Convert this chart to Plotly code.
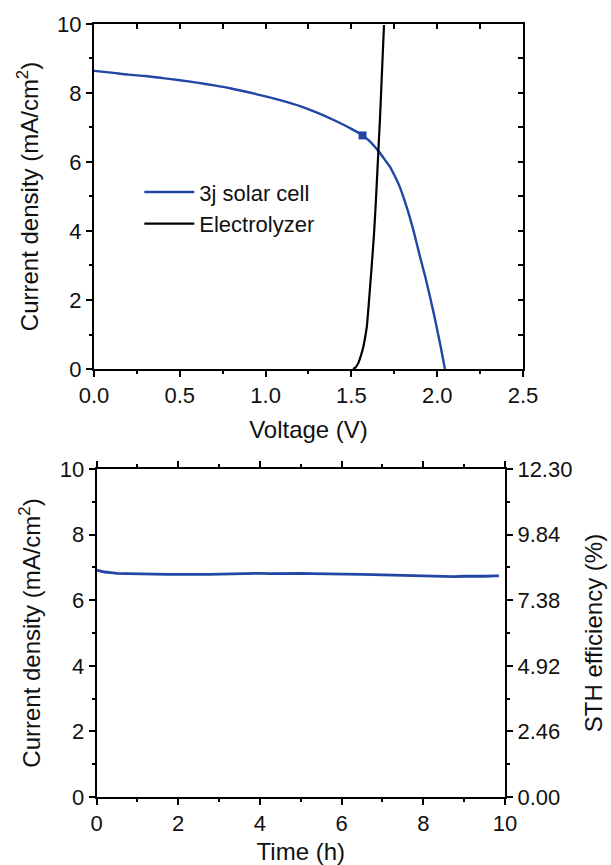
import plotly.graph_objects as go

# ---- J-V curves (top panel) ----
solar_v = [0.00, 0.10, 0.20, 0.30, 0.40, 0.50, 0.60, 0.70, 0.80, 0.90, 1.00,
           1.10, 1.20, 1.30, 1.40, 1.50, 1.565, 1.60, 1.66, 1.70, 1.725, 1.75,
           1.78, 1.81, 1.84, 1.87, 1.90, 1.93, 1.96, 1.99, 2.02, 2.045]
solar_j = [8.64, 8.59, 8.53, 8.49, 8.43, 8.37, 8.30, 8.22, 8.13, 8.02, 7.90,
           7.77, 7.62, 7.43, 7.21, 6.96, 6.77, 6.63, 6.30, 6.03, 5.86, 5.62,
           5.30, 4.88, 4.40, 3.85, 3.25, 2.68, 2.05, 1.38, 0.65, 0.00]

elec_v = [1.510, 1.525, 1.540, 1.555, 1.570, 1.580, 1.590, 1.603, 1.618,
          1.632, 1.643, 1.657, 1.667, 1.677, 1.690]
elec_j = [0.00, 0.05, 0.17, 0.38, 0.65, 0.92, 1.23, 2.00, 2.97,
          3.93, 4.90, 6.30, 7.31, 8.47, 9.97]

# operating point marked on the solar-cell curve
mpp_v = [1.565]
mpp_j = [6.77]

# ---- stability run (bottom panel) ----
time_h = [0.00, 0.10, 0.20, 0.35, 0.50, 0.75, 1.00, 1.25, 1.50, 1.75, 2.00,
          2.25, 2.50, 2.75, 3.00, 3.25, 3.50, 3.75, 4.00, 4.25, 4.50, 4.75,
          5.00, 5.25, 5.50, 5.75, 6.00, 6.25, 6.50, 6.75, 7.00, 7.25, 7.50,
          7.75, 8.00, 8.25, 8.50, 8.75, 9.00, 9.25, 9.50, 9.75, 9.85]
stab_j = [6.92, 6.88, 6.86, 6.84, 6.82, 6.81, 6.80, 6.79, 6.80, 6.79, 6.79,
          6.78, 6.79, 6.79, 6.80, 6.80, 6.81, 6.81, 6.82, 6.81, 6.82, 6.82,
          6.82, 6.81, 6.81, 6.81, 6.80, 6.79, 6.79, 6.78, 6.77, 6.76, 6.75,
          6.74, 6.73, 6.72, 6.72, 6.72, 6.73, 6.72, 6.73, 6.74, 6.74]

# STH efficiency (%) = 1.23 V x J (mA/cm2) / 100 mW/cm2 x 100
sth_factor = 1.23
sth_ticks = [0.00, 2.46, 4.92, 7.38, 9.84, 12.30]

BLUE = "#2246a6"
FONT = "Arial, Liberation Sans, sans-serif"
TICK_FONT = dict(family=FONT, size=22, color="#111111")
TITLE_FONT = dict(family=FONT, size=24, color="#111111")

fig = go.Figure()

fig.add_trace(go.Scatter(x=solar_v, y=solar_j, mode="lines", name="3j solar cell",
                         line=dict(color=BLUE, width=2.4, shape="spline", smoothing=0.6),
                         xaxis="x", yaxis="y"))
fig.add_trace(go.Scatter(x=elec_v, y=elec_j, mode="lines", name="Electrolyzer",
                         line=dict(color="black", width=2.2, shape="spline", smoothing=0.5),
                         xaxis="x", yaxis="y"))
fig.add_trace(go.Scatter(x=mpp_v, y=mpp_j, mode="markers", showlegend=False,
                         marker=dict(symbol="square", size=8, color=BLUE),
                         xaxis="x", yaxis="y"))
# carriers for the inward top / right tick frames of the J-V panel
fig.add_trace(go.Scatter(x=solar_v, y=solar_j, mode="lines", showlegend=False,
                         line=dict(width=0), hoverinfo="skip", xaxis="x3", yaxis="y"))
fig.add_trace(go.Scatter(x=solar_v, y=solar_j, mode="lines", showlegend=False,
                         line=dict(width=0), hoverinfo="skip", xaxis="x", yaxis="y3"))

fig.add_trace(go.Scatter(x=time_h, y=stab_j, mode="lines", showlegend=False,
                         line=dict(color=BLUE, width=2.8), xaxis="x2", yaxis="y2"))
fig.add_trace(go.Scatter(x=time_h, y=[j * sth_factor for j in stab_j], mode="lines",
                         showlegend=False, line=dict(width=0), hoverinfo="skip",
                         xaxis="x2", yaxis="y4"))

axis_common = dict(showgrid=False, zeroline=False, showline=True, linecolor="black",
                   linewidth=2, tickcolor="black", tickwidth=2, tickfont=TICK_FONT,
                   title_font=TITLE_FONT, automargin=False)
frame_ticks = dict(ticks="inside", ticklen=5, tickcolor="black", tickwidth=2,
                   showticklabels=False, showgrid=False, zeroline=False,
                   showline=False, automargin=False)

fig.update_layout(
    width=611, height=865,
    margin=dict(l=0, r=0, t=0, b=0),
    paper_bgcolor="white", plot_bgcolor="white",
    font=dict(family=FONT, color="#111111"),
    # top panel
    xaxis=dict(axis_common, domain=[0.1538, 0.856], anchor="y", range=[0, 2.5],
               dtick=0.5, tickformat=".1f", ticks="outside", ticklen=6,
               minor=dict(dtick=0.25, ticks="outside", ticklen=3, tickcolor="black", tickwidth=2),
               mirror=True, title=dict(text="Voltage (V)", standoff=14)),
    yaxis=dict(axis_common, domain=[0.5734, 0.9723], anchor="x", range=[0, 10],
               dtick=2, ticks="outside", ticklen=6,
               minor=dict(dtick=1, ticks="outside", ticklen=3, tickcolor="black", tickwidth=2),
               mirror=True, title=dict(text="Current density (mA/cm<sup>2</sup>)", standoff=12)),
    xaxis3=dict(frame_ticks, overlaying="x", side="top", anchor="y", range=[0, 2.5], dtick=0.25),
    yaxis3=dict(frame_ticks, overlaying="y", side="right", anchor="x", range=[0, 10], dtick=1),
    # bottom panel
    xaxis2=dict(axis_common, domain=[0.158, 0.8265], anchor="y2", range=[0, 10],
                dtick=2, ticks="outside", ticklen=6,
                minor=dict(dtick=1, ticks="outside", ticklen=3, tickcolor="black", tickwidth=2),
                mirror="ticks", title=dict(text="Time (h)", standoff=14)),
    yaxis2=dict(axis_common, domain=[0.0786, 0.4578], anchor="x2", range=[0, 10],
                dtick=2, ticks="outside", ticklen=6,
                minor=dict(dtick=1, ticks="outside", ticklen=3, tickcolor="black", tickwidth=2),
                title=dict(text="Current density (mA/cm<sup>2</sup>)", standoff=12)),
    yaxis4=dict(axis_common, overlaying="y2", side="right", anchor="x2",
                range=[0, sth_factor * 10],
                tickvals=sth_ticks, ticktext=[f"{v:.2f}" for v in sth_ticks],
                ticks="outside", ticklen=6,
                minor=dict(tick0=0, dtick=sth_factor, ticks="outside", ticklen=3,
                           tickcolor="black", tickwidth=2),
                title=dict(text="STH efficiency (%)", standoff=14)),
    legend=dict(x=0.228, y=0.802, xanchor="left", yanchor="top", itemwidth=50,
                bgcolor="rgba(0,0,0,0)", font=dict(family=FONT, size=22, color="#111111"),
                tracegroupgap=0),
    showlegend=True,
)

fig.write_html("out.html")
